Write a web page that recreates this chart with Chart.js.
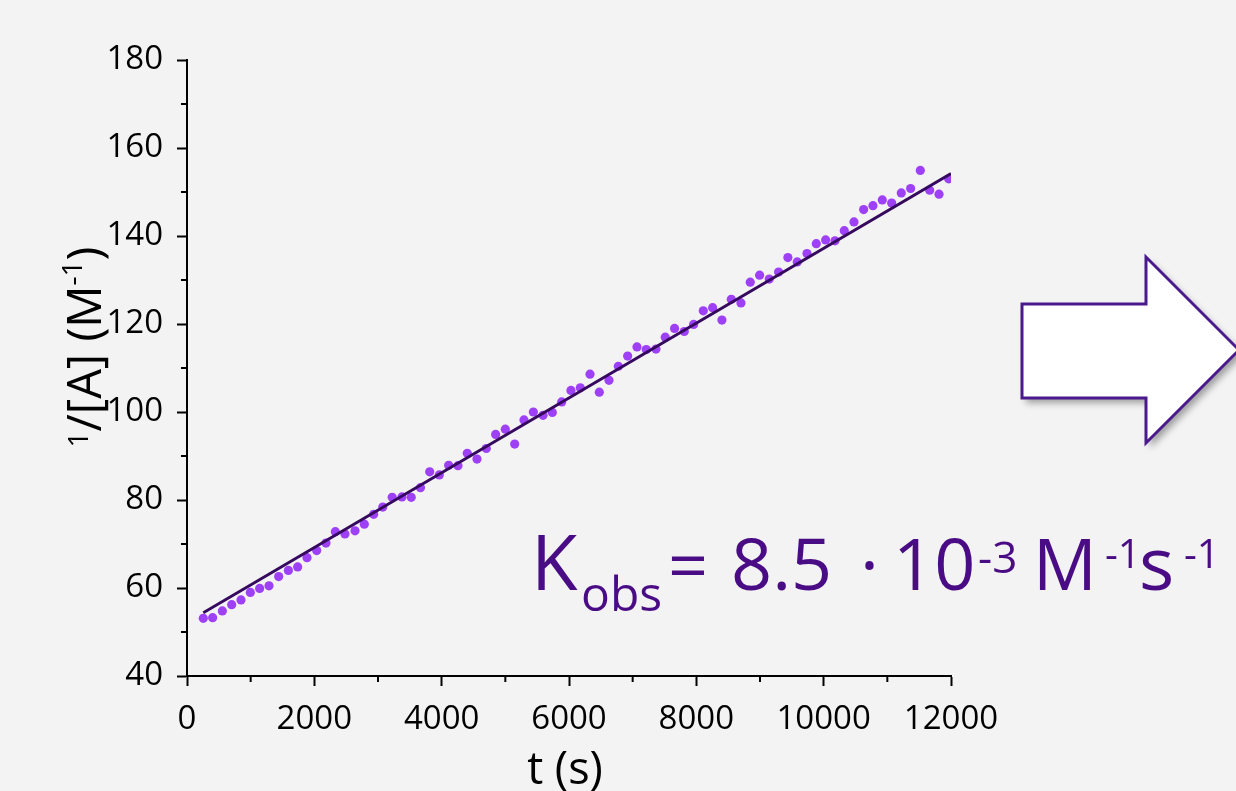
<!DOCTYPE html>
<html>
<head>
<meta charset="utf-8">
<script src="https://cdn.jsdelivr.net/npm/chart.js@4.4.1/dist/chart.umd.min.js"></script>
<style>
  html, body { margin: 0; padding: 0; background: #f3f3f3; }
  #wrap { position: relative; width: 1236px; height: 791px; }
  canvas { display: block; }
</style>
</head>
<body>
<div id="wrap"><canvas id="c" width="1236" height="791"></canvas></div>
<script>
// Time points (s)
const tSec = [
  256, 403, 555, 702, 848, 995, 1141, 1288, 1440, 1592, 1738, 1885, 2037, 2183, 2330, 2481,
  2639, 2785, 2932, 3075, 3223, 3376, 3522, 3667, 3812, 3963, 4110, 4256, 4402, 4555, 4701, 4848,
  5000, 5147, 5293, 5440, 5592, 5738, 5885, 6031, 6178, 6330, 6476, 6628, 6775, 6921, 7068, 7214,
  7366, 7512, 7658, 7810, 7957, 8109, 8256, 8402, 8549, 8701, 8847, 8994, 9145, 9292, 9438, 9585,
  9738, 9884, 10031, 10178, 10324, 10476, 10628, 10774, 10921, 11068, 11219, 11366, 11518, 11665, 11812, 11963
];
// Measured 1/[A] (M^-1)
const invA = [
  53.1, 53.25, 54.8, 56.2, 57.3, 59.0, 59.9, 60.5, 62.6, 64.0, 64.8, 66.9, 68.5, 70.2, 72.8, 72.3,
  73.0, 74.5, 76.75, 78.4, 80.6, 80.7, 80.6, 82.8, 86.4, 85.7, 87.9, 87.8, 90.6, 89.3, 91.7, 94.9,
  96.1, 92.7, 98.2, 100.0, 99.25, 99.9, 102.3, 104.9, 105.5, 108.6, 104.5, 107.2, 110.4, 112.7, 114.8, 114.2,
  114.3, 117.0, 119.0, 118.3, 119.9, 123.0, 123.7, 120.9, 125.6, 124.8, 129.5, 131.1, 130.2, 131.8, 135.1, 134.1,
  136.0, 138.25, 139.1, 138.9, 141.2, 143.2, 146.0, 146.9, 148.2, 147.5, 149.8, 150.8, 154.9, 150.4, 149.5, 153.0
];
// Second-order fit: 1/[A] = 1/[A]0 + k t
const kObs = 8.5e-3;
const invA0 = 52.2;
const fitRange = [256, 12000];

// Axis ticks
const xTicks = [0, 2000, 4000, 6000, 8000, 10000, 12000];
const yTicks = [40, 60, 80, 100, 120, 140, 160, 180];

const FONT = "'Open Sans', 'DejaVu Sans', sans-serif";

const points = tSec.map((t, i) => ({ x: t, y: invA[i] }));
const fitLine = fitRange.map(t => ({ x: t, y: invA0 + kObs * t }));

const background = {
  id: 'background',
  beforeDraw(chart) {
    const ctx = chart.ctx;
    ctx.save();
    ctx.fillStyle = '#f3f3f3';
    ctx.fillRect(0, 0, chart.width, chart.height);
    ctx.restore();
  }
};

// Short minor ticks between the labelled major ticks
const minorTicks = {
  id: 'minorTicks',
  afterDraw(chart) {
    const ctx = chart.ctx;
    const xs = chart.scales.x, ys = chart.scales.y;
    ctx.save();
    ctx.strokeStyle = '#000';
    ctx.lineWidth = 2;
    ctx.beginPath();
    for (let v = 1000; v < 12000; v += 2000) {
      const px = xs.getPixelForValue(v);
      ctx.moveTo(px, ys.bottom);
      ctx.lineTo(px, ys.bottom + 6);
    }
    for (let v = 50; v < 180; v += 20) {
      const py = ys.getPixelForValue(v);
      ctx.moveTo(xs.left, py);
      ctx.lineTo(xs.left - 6, py);
    }
    ctx.stroke();
    ctx.restore();
  }
};

function drawPieces(ctx, pieces) {
  pieces.forEach(p => {
    ctx.font = p.size + 'px ' + FONT;
    ctx.fillText(p.text, p.x, p.y);
  });
}

// Axis titles, rate constant annotation and block arrow
const annotations = {
  id: 'annotations',
  afterDraw(chart) {
    const ctx = chart.ctx;
    const xs = chart.scales.x;
    ctx.save();
    ctx.textBaseline = 'alphabetic';

    // x title
    ctx.fillStyle = '#000';
    ctx.font = '45px ' + FONT;
    ctx.textAlign = 'center';
    ctx.fillText('t (s)', (xs.left + xs.right) / 2 - 4, 784);

    // y title, rotated
    ctx.save();
    ctx.translate(101, 347);
    ctx.rotate(-Math.PI / 2);
    ctx.textAlign = 'left';
    const yParts = [
      { text: '1', size: 28, dy: -13 },
      { text: '/[A] (M', size: 47, dy: 0 },
      { text: '-1', size: 28, dy: -19 },
      { text: ')', size: 47, dy: 0 }
    ];
    let total = 0;
    yParts.forEach(p => { ctx.font = p.size + 'px ' + FONT; p.w = ctx.measureText(p.text).width; total += p.w; });
    let cx = -total / 2;
    yParts.forEach(p => {
      ctx.font = p.size + 'px ' + FONT;
      ctx.fillText(p.text, cx, p.dy);
      cx += p.w;
    });
    ctx.restore();

    // rate constant
    ctx.fillStyle = '#4a0c85';
    ctx.textAlign = 'left';
    drawPieces(ctx, [
      { text: 'K', size: 76, x: 531, y: 590 },
      { text: 'obs', size: 48, x: 581, y: 611 },
      { text: '=', size: 70, x: 668, y: 590 },
      { text: '8.5', size: 72, x: 731, y: 590 },
      { text: '·', size: 72, x: 860, y: 590 },
      { text: '10', size: 72, x: 893, y: 590 },
      { text: '-3', size: 44, x: 978, y: 573 },
      { text: 'M', size: 71, x: 1033, y: 590 },
      { text: '-1', size: 40, x: 1105, y: 568 },
      { text: 's', size: 74, x: 1139, y: 590 },
      { text: '-1', size: 40, x: 1184, y: 568 }
    ]);

    // block arrow
    ctx.beginPath();
    ctx.moveTo(1022, 304);
    ctx.lineTo(1146, 304);
    ctx.lineTo(1146, 257);
    ctx.lineTo(1239, 350);
    ctx.lineTo(1146, 443);
    ctx.lineTo(1146, 398);
    ctx.lineTo(1022, 398);
    ctx.closePath();
    ctx.save();
    ctx.shadowColor = 'rgba(0,0,0,0.35)';
    ctx.shadowBlur = 7;
    ctx.shadowOffsetX = 4;
    ctx.shadowOffsetY = 5;
    ctx.fillStyle = '#ffffff';
    ctx.fill();
    ctx.restore();
    ctx.strokeStyle = '#4a1a8c';
    ctx.lineWidth = 3;
    ctx.lineJoin = 'miter';
    ctx.stroke();

    ctx.restore();
  }
};

new Chart(document.getElementById('c'), {
  type: 'scatter',
  data: {
    datasets: [
      {
        type: 'line',
        data: fitLine,
        borderColor: '#35095e',
        borderWidth: 2.8,
        pointRadius: 0,
        fill: false,
        order: 0
      },
      {
        data: points,
        backgroundColor: '#9e40f6',
        borderWidth: 0,
        pointRadius: 4.6,
        order: 1
      }
    ]
  },
  options: {
    responsive: false,
    animation: false,
    devicePixelRatio: 1,
    layout: { padding: { top: 60, right: 285, left: 0, bottom: 0 } },
    plugins: { legend: { display: false }, tooltip: { enabled: false } },
    scales: {
      x: {
        type: 'linear',
        min: 0,
        max: 12000,
        afterBuildTicks(scale) { scale.ticks = xTicks.map(v => ({ value: v })); },
        afterFit(scale) { scale.height = 115; },
        border: { display: true, color: '#000', width: 2 },
        grid: { drawOnChartArea: false, drawTicks: true, tickLength: 10, tickColor: '#000', tickWidth: 2 },
        ticks: {
          autoSkip: false, maxRotation: 0, padding: 14,
          color: '#000',
          font: { family: FONT, size: 33 },
          callback: v => String(v)
        },
        title: { display: false }
      },
      y: {
        type: 'linear',
        min: 40,
        max: 180,
        afterBuildTicks(scale) { scale.ticks = yTicks.map(v => ({ value: v })); },
        afterFit(scale) { scale.width = 187; },
        border: { display: true, color: '#000', width: 2 },
        grid: { drawOnChartArea: false, drawTicks: true, tickLength: 10, tickColor: '#000', tickWidth: 2 },
        ticks: {
          autoSkip: false, padding: 14,
          color: '#000',
          font: { family: FONT, size: 33 },
          callback: v => String(v)
        },
        title: { display: false }
      }
    }
  },
  plugins: [background, minorTicks, annotations]
});
</script>
</body>
</html>
